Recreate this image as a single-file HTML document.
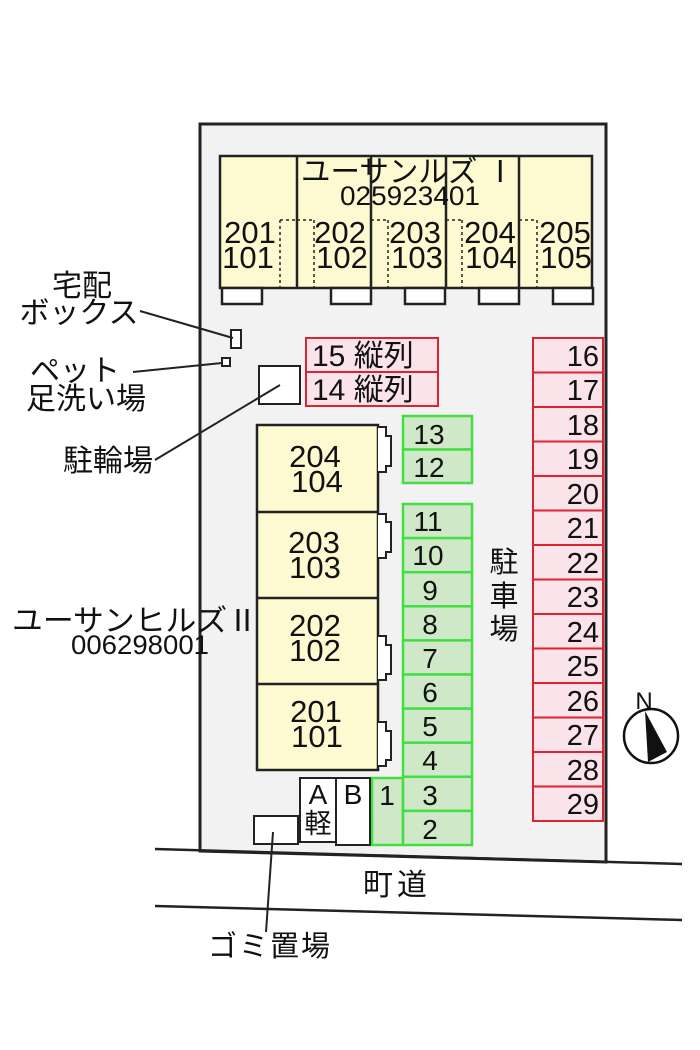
<!DOCTYPE html>
<html><head><meta charset="utf-8"><style>
html,body{margin:0;padding:0;background:#fff;}
svg{display:block;}
text{font-family:"Liberation Sans","Noto Sans CJK JP",sans-serif;fill:#111;}
</style></head><body>
<svg width="700" height="1050" viewBox="0 0 700 1050" xmlns="http://www.w3.org/2000/svg">
<polygon points="200,124 606,124 606,862 200,851" fill="#f2f2f2" stroke="#222" stroke-width="3"/>
<line x1="155" y1="849" x2="682" y2="864" stroke="#222" stroke-width="2.5"/>
<line x1="155" y1="906" x2="682" y2="920" stroke="#222" stroke-width="2.5"/>
<text x="397" y="895" font-size="30" text-anchor="middle" letter-spacing="4">町道</text>

<g stroke="#222" stroke-width="2.5">
<rect x="220" y="156" width="372" height="132" fill="#fdfad2"/>
<line x1="297" y1="156" x2="297" y2="288"/>
<line x1="371" y1="156" x2="371" y2="288"/>
<line x1="446" y1="156" x2="446" y2="288"/>
<line x1="519" y1="156" x2="519" y2="288"/>
<rect x="222" y="288" width="40" height="16" fill="#fff"/>
<rect x="331" y="288" width="40" height="16" fill="#fff"/>
<rect x="405" y="288" width="40" height="16" fill="#fff"/>
<rect x="479" y="288" width="40" height="16" fill="#fff"/>
<rect x="553" y="288" width="40" height="16" fill="#fff"/>
</g>
<g stroke="#222" stroke-width="1.5" stroke-dasharray="3,3" fill="none">
<path d="M280,220 V288 M280,220 H297 M314,220 V288 M297,220 H314"/>
<path d="M388,220 V288 M371,220 H388"/>
<path d="M462,220 V288 M446,220 H462"/>
<path d="M537,220 V288 M519,220 H537"/>
</g>
<text x="408" y="182" font-size="30" text-anchor="middle" textLength="214" lengthAdjust="spacingAndGlyphs">ユーサンルズ Ⅰ</text>
<text x="410" y="205" font-size="27" text-anchor="middle" textLength="140" lengthAdjust="spacingAndGlyphs">025923401</text>
<g font-size="31" text-anchor="middle">
<text x="250" y="243">201</text><text x="248" y="268">101</text>
<text x="340" y="243">202</text><text x="342" y="268">102</text>
<text x="415" y="243">203</text><text x="417" y="268">103</text>
<text x="490" y="243">204</text><text x="491" y="268">104</text>
<text x="565" y="243">205</text><text x="566" y="268">105</text>
</g>

<rect x="231" y="330" width="10" height="18" fill="#fff" stroke="#222" stroke-width="2"/>
<rect x="222" y="358" width="8" height="8" fill="#fff" stroke="#222" stroke-width="2"/>
<rect x="259" y="366" width="41" height="38" fill="#fff" stroke="#222" stroke-width="2"/>
<line x1="140" y1="311" x2="233" y2="338" stroke="#222" stroke-width="2"/>
<line x1="133" y1="372" x2="222" y2="363" stroke="#222" stroke-width="2"/>
<line x1="155" y1="460" x2="280" y2="385" stroke="#222" stroke-width="2"/>
<g font-size="30" text-anchor="middle">
<text x="82" y="296">宅配</text>
<text x="79" y="323">ボックス</text>
<text x="75" y="381">ペット</text>
<text x="86" y="409">足洗い場</text>
<text x="108" y="471">駐輪場</text>
<text x="135" y="631" textLength="246" lengthAdjust="spacingAndGlyphs">ユーサンヒルズⅡ</text>
</g>
<text x="140" y="654" font-size="27" text-anchor="middle" textLength="138" lengthAdjust="spacingAndGlyphs">006298001</text>

<g stroke="#dd2233" stroke-width="2" fill="#fbe3ea">
<rect x="306" y="338" width="132" height="34"/>
<rect x="306" y="372" width="132" height="34"/>
</g>
<g font-size="30">
<text x="312" y="366">15 縦列</text>
<text x="312" y="400">14 縦列</text>
</g>
<g stroke="#dd2233" stroke-width="2" fill="#fbe3ea">
<rect x="533" y="338" width="70" height="34.5"/><rect x="533" y="372.5" width="70" height="34.5"/>
<rect x="533" y="407" width="70" height="34.5"/><rect x="533" y="441.5" width="70" height="34.5"/>
<rect x="533" y="476" width="70" height="34.5"/><rect x="533" y="510.5" width="70" height="34.5"/>
<rect x="533" y="545" width="70" height="34.5"/><rect x="533" y="579.5" width="70" height="34.5"/>
<rect x="533" y="614" width="70" height="34.5"/><rect x="533" y="648.5" width="70" height="34.5"/>
<rect x="533" y="683" width="70" height="34.5"/><rect x="533" y="717.5" width="70" height="34.5"/>
<rect x="533" y="752" width="70" height="34.5"/><rect x="533" y="786.5" width="70" height="34.5"/>
</g>
<g font-size="29" text-anchor="end">
<text x="599" y="366">16</text><text x="599" y="400">17</text><text x="599" y="435">18</text>
<text x="599" y="469">19</text><text x="599" y="504">20</text><text x="599" y="538">21</text>
<text x="599" y="573">22</text><text x="599" y="607">23</text><text x="599" y="642">24</text>
<text x="599" y="676">25</text><text x="599" y="711">26</text><text x="599" y="745">27</text>
<text x="599" y="780">28</text><text x="599" y="814">29</text>
</g>

<g stroke="#44dd44" stroke-width="2.5" fill="#cfe8c8">
<rect x="403" y="416" width="69" height="33.5"/><rect x="403" y="449.5" width="69" height="33.5"/>
<rect x="372" y="778" width="31" height="67"/>
<rect x="403" y="504" width="69" height="34.1"/><rect x="403" y="538.1" width="69" height="34.1"/>
<rect x="403" y="572.2" width="69" height="34.1"/><rect x="403" y="606.3" width="69" height="34.1"/>
<rect x="403" y="640.4" width="69" height="34.1"/><rect x="403" y="674.5" width="69" height="34.1"/>
<rect x="403" y="708.6" width="69" height="34.1"/><rect x="403" y="742.7" width="69" height="34.1"/>
<rect x="403" y="776.8" width="69" height="34.1"/><rect x="403" y="810.9" width="69" height="34.1"/>
</g>
<g font-size="28" text-anchor="middle">
<text x="429" y="444">13</text><text x="429" y="477">12</text>
<text x="428" y="531">11</text><text x="428" y="565">10</text>
<text x="430" y="600">9</text><text x="430" y="634">8</text><text x="430" y="668">7</text>
<text x="430" y="702">6</text><text x="430" y="736">5</text><text x="430" y="770">4</text>
<text x="430" y="805">3</text><text x="430" y="839">2</text>
<text x="387" y="805">1</text>
</g>
<g font-size="29" text-anchor="middle">
<text x="504" y="572">駐</text><text x="504" y="606">車</text><text x="504" y="639">場</text>
</g>

<g stroke="#222" stroke-width="2.5">
<rect x="257" y="425" width="121" height="345" fill="#fdfad2"/>
<line x1="257" y1="512" x2="378" y2="512"/>
<line x1="257" y1="598" x2="378" y2="598"/>
<line x1="257" y1="684" x2="378" y2="684"/>
</g>
<g stroke="#222" stroke-width="2" fill="#fff">
<path d="M378,427 H386 V436 H391 V466 H386 V472 H378"/>
<path d="M378,514 H386 V522 H391 V552 H386 V558 H378"/>
<path d="M378,636 H386 V645 H391 V674 H386 V680 H378"/>
<path d="M378,722 H386 V731 H391 V760 H386 V766 H378"/>
</g>
<g font-size="31" text-anchor="middle">
<text x="315" y="467">204</text><text x="317" y="492">104</text>
<text x="314" y="553">203</text><text x="315" y="578">103</text>
<text x="315" y="636">202</text><text x="315" y="661">102</text>
<text x="316" y="722">201</text><text x="317" y="747">101</text>
</g>

<rect x="300" y="778" width="36" height="64" fill="#fff" stroke="#222" stroke-width="2"/>
<rect x="336" y="778" width="34" height="67" fill="#fff" stroke="#222" stroke-width="2"/>
<text x="318" y="804" font-size="28" text-anchor="middle">A</text>
<text x="318" y="833" font-size="27" text-anchor="middle">軽</text>
<text x="353" y="804" font-size="28" text-anchor="middle">B</text>
<rect x="254" y="816" width="44" height="28" fill="#fff" stroke="#222" stroke-width="2"/>
<line x1="273" y1="832" x2="266" y2="932" stroke="#222" stroke-width="2"/>
<text x="270" y="956" font-size="29" text-anchor="middle" letter-spacing="2">ゴミ置場</text>

<circle cx="651" cy="736" r="27" fill="#fff" stroke="#111" stroke-width="2.5"/>
<polygon points="645,711 648,762 667,752" fill="#111"/>
<text x="644" y="709" font-size="24" text-anchor="middle">N</text>
</svg>
</body></html>
